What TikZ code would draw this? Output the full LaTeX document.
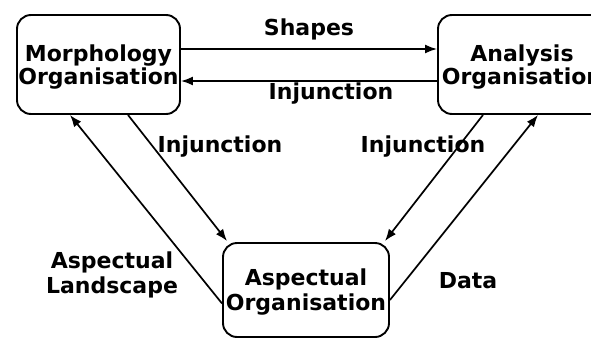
\documentclass[tikz,border=0pt]{standalone}
\usepackage{fontspec}
\setmainfont{DejaVu Sans}
\usetikzlibrary{arrows.meta}
\begin{document}
\begin{tikzpicture}[x=1pt,y=-1pt,
  orgbox/.style={draw, line width=1.9pt, rounded corners=14pt, align=center,
    font=\bfseries\fontsize{22}{21}\selectfont, inner sep=0pt, text depth=0pt},
  flow/.style={line width=1.7pt, -{Latex[length=12pt,width=9pt]}},
  lbl/.style={font=\bfseries\fontsize{22}{25}\selectfont, align=center, inner sep=0pt}]
  \useasboundingbox (0,0) rectangle (591,340);
  \clip (0,0) rectangle (591,340);

  % the three organisations
  \node[orgbox, minimum width=163pt, minimum height=99pt] (morph) at (98.5,64.5)
    {Morphology\\Organisation};
  \node[orgbox, minimum width=168pt, minimum height=99pt] (anal) at (522,64.5)
    {Analysis\\Organisation};
  \node[orgbox, minimum width=166pt, minimum height=94pt,
    font=\bfseries\fontsize{22}{25}\selectfont] (asp) at (306,290)
    {Aspectual\\Organisation};

  % exchanges between them
  \draw[flow] ([yshift=15.5pt]morph.east) -- ([yshift=15.5pt]anal.west);
  \draw[flow] ([yshift=-16.5pt]anal.west) -- ([yshift=-16.5pt]morph.east);
  \draw[flow] ([xshift=29.5pt]morph.south) -- ([xshift=5pt,yshift=1pt]asp.north west);
  \draw[flow] ([xshift=-39pt]anal.south) -- ([xshift=-5pt,yshift=1pt]asp.north east);
  \draw[flow] ([yshift=-13.5pt]asp.west) -- ([xshift=-28.5pt]morph.south);
  \draw[flow] ([yshift=-10pt]asp.east) -- ([xshift=16pt]anal.south);

  % labels of the exchanges
  \node[lbl, anchor=base] (shapes) at (309,35) {Shapes};
  \node[lbl, anchor=base] (inj1) at (331,99) {Injunction};
  \node[lbl, anchor=base] (inj2) at (220,152) {Injunction};
  \node[lbl, anchor=base] (inj3) at (423,152) {Injunction};
  \node[lbl, anchor=base] (land) at (112,293) {Aspectual\\Landscape};
  \node[lbl, anchor=base] (data) at (468,288) {Data};
\end{tikzpicture}
\end{document}
